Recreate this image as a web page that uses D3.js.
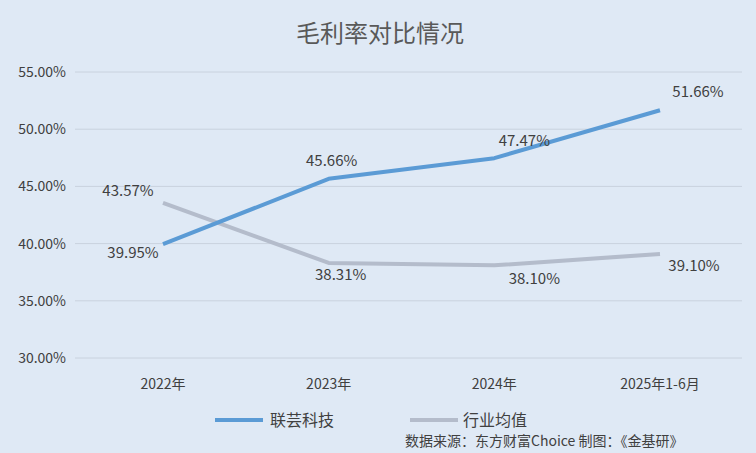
<!DOCTYPE html>
<html><head><meta charset="utf-8">
<script src="https://cdn.jsdelivr.net/npm/d3@7"></script>
<style>body{margin:0;background:#dfe9f5;} text{font-family:"Noto Sans CJK SC","Noto Sans",sans-serif;}</style>
</head><body>
<svg id="c" width="756" height="453"></svg>
<script>
var categories = ['2022年', '2023年', '2024年', '2025年1-6月'];
var seriesNames = ['联芸科技', '行业均值'];
var company = [39.95, 45.66, 47.47, 51.66];
var industry = [43.57, 38.31, 38.10, 39.10];
var yTicks = [30, 35, 40, 45, 50, 55];
var colors = ['#5b9bd5', '#b4bccb'];
// label offsets per point [dx, dy]
var offCompany = [[-30, 9], [3, -18], [30, -17], [38, -18]];
var offIndustry = [[-35, -12], [12, 12], [40, 14], [34, 12]];

var svg = d3.select('#c');
svg.append('rect').attr('width', 756).attr('height', 453).attr('fill', '#dfe9f5');
svg.append('text').attr('x', 380).attr('y', 42).attr('text-anchor', 'middle')
   .attr('font-size', 24).attr('fill', '#595959').text('毛利率对比情况');

var x = d3.scalePoint().domain(categories).range([163, 660]);
var y = d3.scaleLinear().domain([30, 55]).range([358, 72]);

var g = svg.append('g');
yTicks.forEach(function(t){
	g.append('line').attr('x1', 75).attr('x2', 742).attr('y1', y(t)).attr('y2', y(t))
	 .attr('stroke', '#c9d2de').attr('stroke-width', 1);
	g.append('text').attr('x', 66).attr('y', y(t) + 5).attr('text-anchor', 'end')
	 .attr('font-size', 14).attr('fill', '#404040').text(t.toFixed(2) + '%');
});
categories.forEach(function(c){
	g.append('text').attr('x', x(c)).attr('y', 389).attr('text-anchor', 'middle')
	 .attr('font-size', 14).attr('fill', '#404040').text(c);
});

var line = d3.line().x(function(d, i){ return x(categories[i]); }).y(function(d){ return y(d); });
[[industry, colors[1], offIndustry], [company, colors[0], offCompany]].forEach(function(s){
	g.append('path').attr('d', line(s[0])).attr('fill', 'none')
	 .attr('stroke', s[1]).attr('stroke-width', 4).attr('stroke-linejoin', 'round');
	s[0].forEach(function(v, i){
		g.append('text').attr('x', x(categories[i]) + s[2][i][0]).attr('y', y(v) + s[2][i][1] + 5)
		 .attr('text-anchor', 'middle').attr('font-size', 15).attr('fill', '#404040').text(v.toFixed(2) + '%');
	});
});

var leg = [[215, 270], [410, 463]];
seriesNames.forEach(function(n, i){
	g.append('line').attr('x1', leg[i][0]).attr('x2', leg[i][0] + 48).attr('y1', 420).attr('y2', 420)
	 .attr('stroke', colors[i]).attr('stroke-width', 4);
	g.append('text').attr('x', leg[i][1]).attr('y', 426).attr('font-size', 16).attr('fill', '#404040').text(n);
});
g.append('text').attr('x', 405).attr('y', 446).attr('font-size', 14).attr('fill', '#404040')
 .text('数据来源：东方财富Choice  制图：《金基研》');
</script>
</body></html>
